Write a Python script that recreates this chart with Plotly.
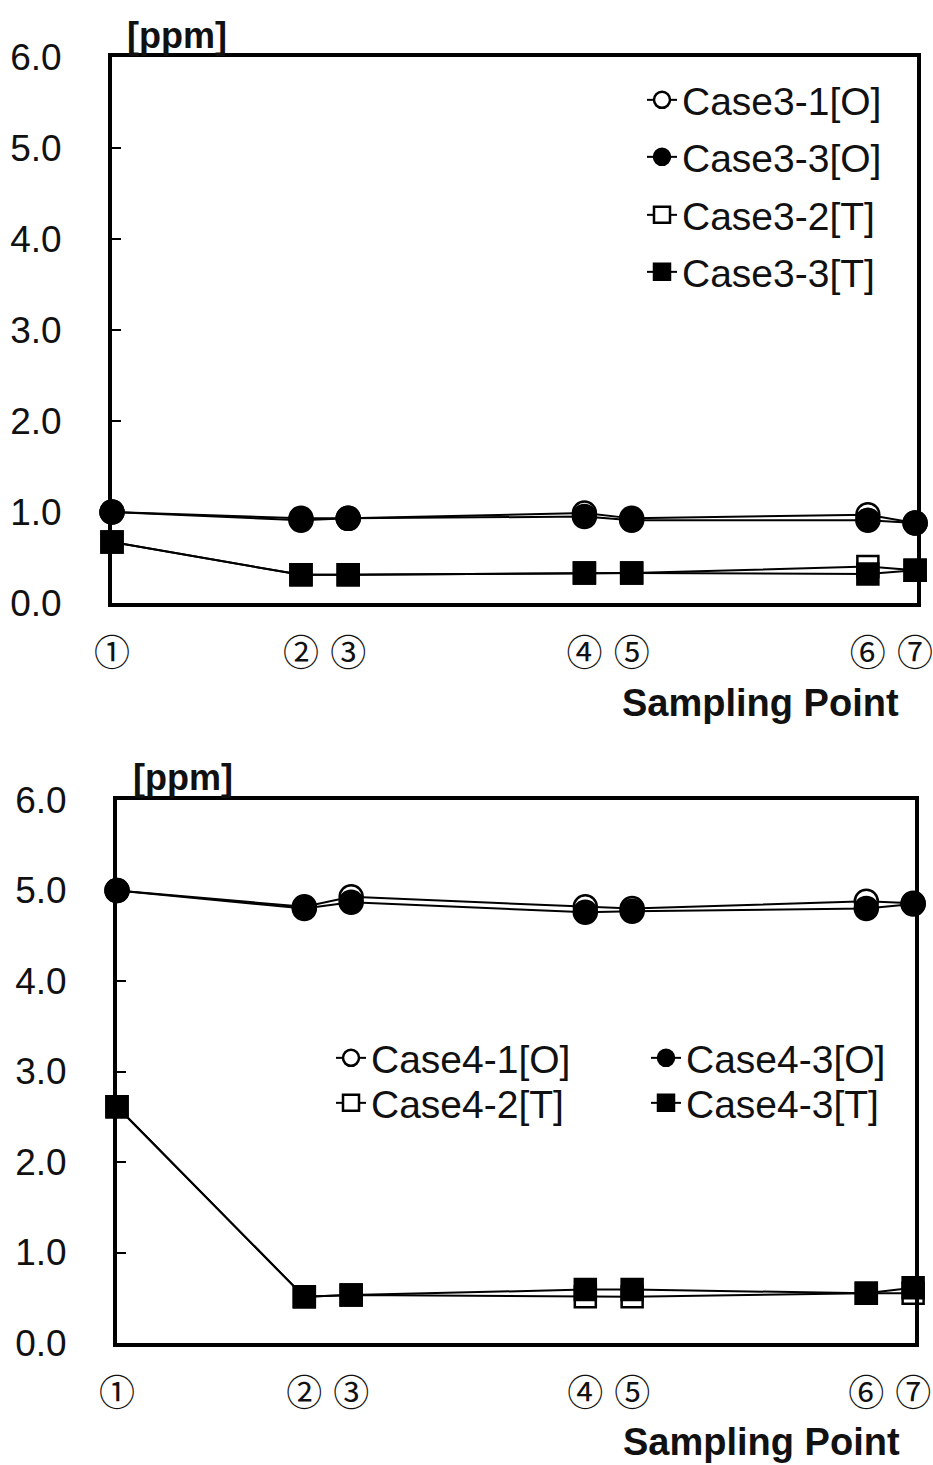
import plotly.graph_objects as go

# Sampling points along the line (position index) and their circled labels
point_labels = ["①", "②", "③", "④", "⑤", "⑥", "⑦"]
point_pos = [0, 4, 5, 10, 11, 16, 17]

# Case 3 concentrations [ppm]
case3_1_o = [1.00, 0.93, 0.93, 0.99, 0.93, 0.97, 0.88]
case3_3_o = [1.00, 0.91, 0.93, 0.95, 0.91, 0.91, 0.88]
case3_2_t = [0.67, 0.31, 0.31, 0.33, 0.33, 0.40, 0.36]
case3_3_t = [0.67, 0.31, 0.31, 0.33, 0.33, 0.32, 0.36]

# Case 4 concentrations [ppm]
case4_1_o = [5.00, 4.82, 4.93, 4.82, 4.80, 4.88, 4.86]
case4_3_o = [5.00, 4.80, 4.87, 4.76, 4.77, 4.80, 4.85]
case4_2_t = [2.61, 0.51, 0.53, 0.51, 0.51, 0.55, 0.55]
case4_3_t = [2.61, 0.51, 0.53, 0.59, 0.59, 0.55, 0.61]

W, H = 933, 1465
SANS = "Liberation Sans, Arial, sans-serif"
CJK = "Noto Sans CJK JP, sans-serif"
INK = "#111111"

fig = go.Figure()


def series(name, values, symbol, filled, xa, ya, legend):
    size = 23 if symbol == "circle" else 21
    fig.add_trace(go.Scatter(
        x=point_pos, y=values, name=name, mode="lines+markers",
        xaxis=xa, yaxis=ya, legend=legend,
        cliponaxis=False,
        line=dict(color="black", width=2),
        marker=dict(symbol=symbol, size=size,
                    color="black" if filled else "white",
                    line=dict(color="black", width=2.5)),
    ))


# open markers first so the filled ones sit on top
series("Case3-1[O]", case3_1_o, "circle", False, "x", "y", "legend")
series("Case3-2[T]", case3_2_t, "square", False, "x", "y", "legend3")
series("Case3-3[O]", case3_3_o, "circle", True, "x", "y", "legend2")
series("Case3-3[T]", case3_3_t, "square", True, "x", "y", "legend4")

series("Case4-1[O]", case4_1_o, "circle", False, "x2", "y2", "legend5")
series("Case4-2[T]", case4_2_t, "square", False, "x2", "y2", "legend7")
series("Case4-3[O]", case4_3_o, "circle", True, "x2", "y2", "legend6")
series("Case4-3[T]", case4_3_t, "square", True, "x2", "y2", "legend8")


def px_x(p):
    return p / W


def px_y(p):
    return 1 - p / H


def xaxis(left, right, anchor):
    return dict(
        domain=[px_x(left), px_x(right)], anchor=anchor,
        range=[0, 17.04], showgrid=False, zeroline=False,
        showline=True, linecolor="black", linewidth=4, mirror=True,
        tickmode="array", tickvals=point_pos, ticktext=point_labels,
        ticks="", ticklabelstandoff=16, ticklabeloverflow="allow",
        tickfont=dict(family=CJK, size=36, color=INK),
    )


def yaxis(top, bottom, anchor):
    return dict(
        domain=[px_y(bottom), px_y(top)], anchor=anchor,
        range=[0, 6], dtick=1, tickformat=".1f",
        showgrid=False, zeroline=False,
        showline=True, linecolor="black", linewidth=4, mirror=True,
        ticks="inside", ticklen=9, tickwidth=2, tickcolor="black",
        ticklabelstandoff=39,
        tickfont=dict(family=SANS, size=37, color=INK),
    )


legend_font = dict(family=SANS, size=39, color=INK)


def legend_box(left_px, mid_px):
    # one legend entry, placed so its text begins about 41px right of left_px
    return dict(
        x=px_x(left_px), y=px_y(mid_px), xanchor="left", yanchor="middle",
        bgcolor="rgba(0,0,0,0)", font=legend_font, itemsizing="trace",
    )


def label(text, cx, cy, size):
    return dict(text=text, x=px_x(cx), y=px_y(cy), xref="paper", yref="paper",
                xanchor="center", yanchor="middle", showarrow=False,
                font=dict(family=SANS, size=size, color=INK, weight="bold"))


fig.update_layout(
    width=W, height=H,
    margin=dict(l=0, r=0, t=0, b=0, autoexpand=False),
    paper_bgcolor="white", plot_bgcolor="white",
    showlegend=True,
    xaxis=xaxis(112, 917, "y"),
    yaxis=yaxis(57, 603, "x"),
    xaxis2=xaxis(117, 915, "y2"),
    yaxis2=yaxis(800, 1343, "x2"),
    legend=legend_box(642, 100),
    legend2=legend_box(642, 157),
    legend3=legend_box(642, 215),
    legend4=legend_box(642, 272),
    legend5=legend_box(331, 1058),
    legend6=legend_box(646, 1058),
    legend7=legend_box(331, 1103),
    legend8=legend_box(646, 1103),
    annotations=[
        label("[ppm]", 177, 35, 36),
        label("Sampling Point", 760, 703, 38),
        label("[ppm]", 183, 777, 36),
        label("Sampling Point", 761, 1442, 38),
    ],
)

fig.write_html("out.html")
